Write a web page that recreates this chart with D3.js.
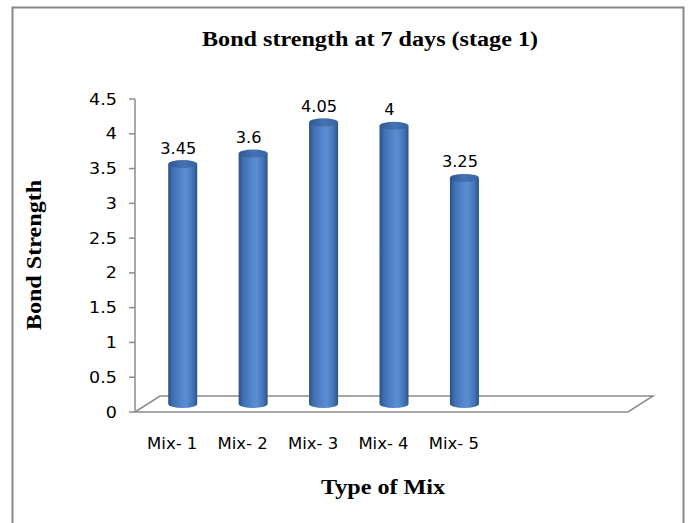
<!DOCTYPE html>
<html>
<head>
<meta charset="utf-8">
<script src="https://cdn.jsdelivr.net/npm/d3@7"></script>
<style>
  body { margin: 0; background: #fff; }
  svg { display: block; }
</style>
</head>
<body>
<svg id="chart" width="689" height="523"></svg>
<script>
const categories = ['Mix- 1', 'Mix- 2', 'Mix- 3', 'Mix- 4', 'Mix- 5'];
const values = [3.45, 3.6, 4.05, 4, 3.25];
const yTicks = [0, 0.5, 1, 1.5, 2, 2.5, 3, 3.5, 4, 4.5];
const slotCount = 7;  // excel left two empty category slots on the floor

const svg = d3.select('#chart');

// front plane of the floor, depth offset for the back edge
const left = 135, right = 628, floorY = 412, topY = 99;
const depth = { x: 25, y: -16 };

const x = d3.scaleBand()
  .domain(d3.range(slotCount))
  .range([left, right]);

const y = d3.scaleLinear()
  .domain([0, 4.5])
  .range([floorY, topY]);

// outer frame
svg.append('rect')
  .attr('x', 12.5).attr('y', 7.5)
  .attr('width', 671).attr('height', 530)
  .attr('fill', 'none')
  .attr('stroke', '#878787')
  .attr('stroke-width', 2);

// stretched text helper
const label = (g, tx, ty, str, opts) => {
  const t = g.append('text')
    .attr('transform', `translate(${tx},${ty}) rotate(${opts.rotate || 0}) scale(${opts.sx || 1},1)`)
    .attr('text-anchor', opts.anchor || 'middle')
    .attr('font-family', opts.family || 'DejaVu Sans, Verdana, sans-serif')
    .attr('font-size', opts.size || 15)
    .attr('font-weight', opts.weight || 'normal')
    .attr('fill', '#000')
    .text(str);
  return t;
};

const defs = svg.append('defs');
const grad = defs.append('linearGradient')
  .attr('id', 'barGrad')
  .attr('x1', '0%').attr('x2', '100%');
[[0, '#2b4f85'], [0.15, '#3f6fb0'], [0.5, '#5689cf'], [0.62, '#5a8dd3'], [0.85, '#4373b4'], [1, '#2c5288']]
  .forEach(([o, c]) => grad.append('stop').attr('offset', o).attr('stop-color', c));
const topGrad = defs.append('linearGradient')
  .attr('id', 'topGrad')
  .attr('x1', '0%').attr('x2', '100%');
[[0, '#2f5892'], [0.5, '#4472b2'], [1, '#3564a3']]
  .forEach(([o, c]) => topGrad.append('stop').attr('offset', o).attr('stop-color', c));

// floor
const floor = [
  [left, floorY],
  [left + depth.x, floorY + depth.y],
  [right + depth.x, floorY + depth.y],
  [right, floorY],
];
svg.append('path')
  .attr('d', d3.line()(floor) + 'Z')
  .attr('fill', '#fff')
  .attr('stroke', '#8c8c8c')
  .attr('stroke-width', 1.5);

// value axis
svg.append('line')
  .attr('x1', left).attr('x2', left)
  .attr('y1', y(4.5)).attr('y2', floorY)
  .attr('stroke', '#8c8c8c')
  .attr('stroke-width', 1.5);

const ticks = svg.append('g');
yTicks.forEach((v) => {
  ticks.append('line')
    .attr('x1', left - 6).attr('x2', left)
    .attr('y1', y(v)).attr('y2', y(v))
    .attr('stroke', '#8c8c8c')
    .attr('stroke-width', 1.5);
  label(ticks, 117, y(v) + 5.5, String(v), { anchor: 'end', sx: 1.17 });
});

// cylinders sit mid-depth
const bars = svg.append('g');
const rx = 14.5, ry = 4;
values.forEach((v, i) => {
  const cx = x(i) + x.bandwidth() / 2 + depth.x / 2;
  const base = y(0) + depth.y / 2;
  const top = y(v) + depth.y / 2;

  bars.append('path')
    .attr('d', `M${cx - rx},${top} L${cx - rx},${base} A${rx},${ry} 0 0 0 ${cx + rx},${base} L${cx + rx},${top} Z`)
    .attr('fill', 'url(#barGrad)');
  bars.append('ellipse')
    .attr('cx', cx).attr('cy', top)
    .attr('rx', rx).attr('ry', ry)
    .attr('fill', 'url(#topGrad)');

  label(bars, cx - 4.5, top - 10.5, String(v), { sx: 1.08 });
});

// category labels
const cats = svg.append('g');
categories.forEach((c, i) => {
  label(cats, x(i) + x.bandwidth() / 2 + 2, 449, c, { sx: 1.1 });
});

// titles
const serif = 'Liberation Serif, Times New Roman, serif';
label(svg, 370, 46, 'Bond strength at 7 days (stage 1)', { family: serif, size: 21, weight: 'bold', sx: 1.15 });
label(svg, 383, 494, 'Type of Mix', { family: serif, size: 21, weight: 'bold', sx: 1.15 });
label(svg, 41, 255, 'Bond Strength', { family: serif, size: 21, weight: 'bold', sx: 1.15, rotate: -90 });
</script>
</body>
</html>
